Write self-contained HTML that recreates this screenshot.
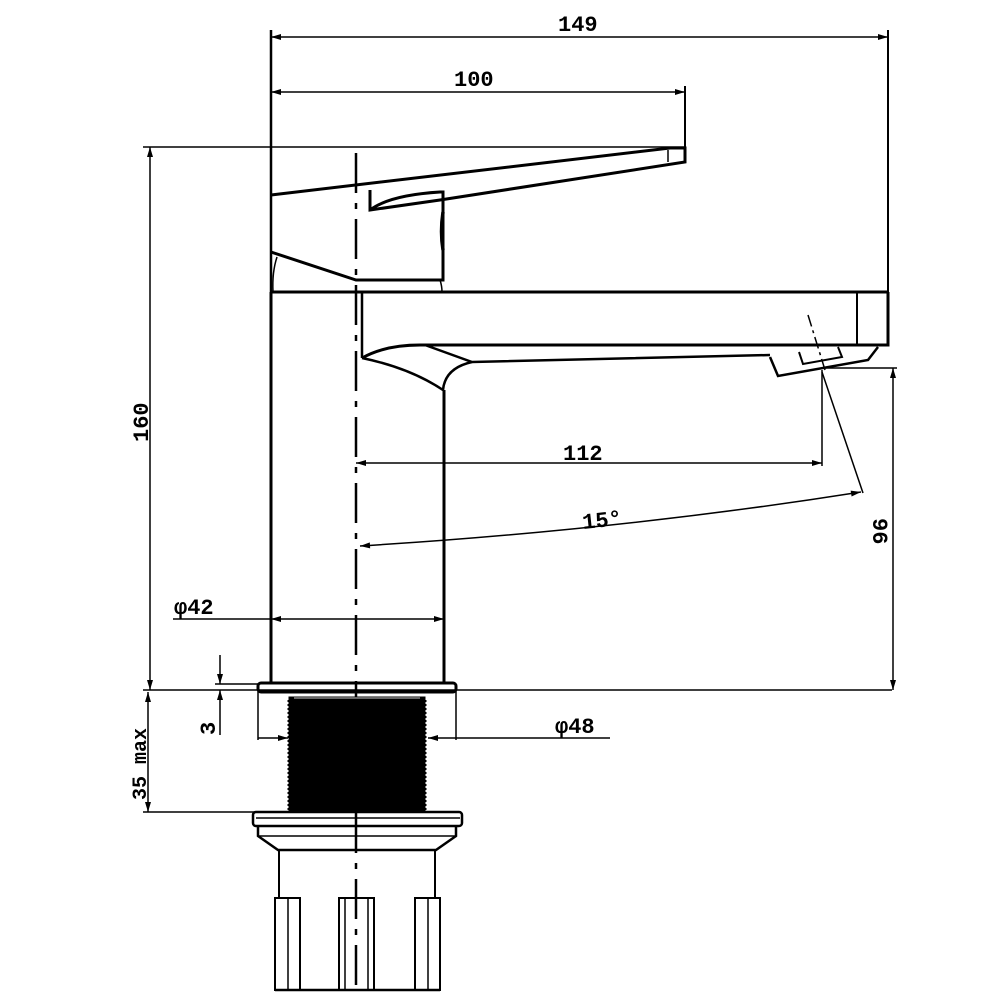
<!DOCTYPE html>
<html><head><meta charset="utf-8"><style>
html,body{margin:0;padding:0;background:#fff;width:1000px;height:1000px;overflow:hidden}
svg text{font-family:"Liberation Mono",monospace;font-weight:bold;font-size:22px;fill:#000}
</style></head><body>
<svg width="1000" height="1000" viewBox="0 0 1000 1000" xmlns="http://www.w3.org/2000/svg">
<defs>
<marker id="a" viewBox="0 0 10 6" refX="10" refY="3" markerWidth="14" markerHeight="6" orient="auto-start-reverse" markerUnits="userSpaceOnUse"><path d="M0,0L10,3L0,6z" fill="#000"/></marker>
</defs>
<g stroke="#000" fill="none" stroke-width="2">
<line x1="271" y1="30" x2="271" y2="292" stroke-width="2.5"/>
<line x1="888" y1="30" x2="888" y2="292"/>
<line x1="685" y1="86" x2="685" y2="160"/>
<line x1="143" y1="147" x2="685" y2="147" stroke-width="1.5"/>
<line x1="143" y1="690" x2="892" y2="690" stroke-width="1.5"/>
<line x1="822" y1="368" x2="897" y2="368" stroke-width="1.5"/>
<line x1="822" y1="370" x2="822" y2="466" stroke-width="1.5"/>
<line x1="822" y1="372" x2="863" y2="493" stroke-width="1.5"/>
<line x1="143" y1="812" x2="290" y2="812" stroke-width="1.5"/>
<line x1="215" y1="684" x2="258" y2="684" stroke-width="1.5"/>
<line x1="271" y1="37" x2="888" y2="37" marker-start="url(#a)" marker-end="url(#a)" stroke-width="1.5"/>
<line x1="271" y1="92" x2="685" y2="92" marker-start="url(#a)" marker-end="url(#a)" stroke-width="1.5"/>
<line x1="150" y1="147" x2="150" y2="690" marker-start="url(#a)" marker-end="url(#a)" stroke-width="1.5"/>
<line x1="356" y1="463" x2="822" y2="463" marker-start="url(#a)" marker-end="url(#a)" stroke-width="1.5"/>
<path d="M360,546 Q620,530 861,492" marker-start="url(#a)" marker-end="url(#a)" stroke-width="1.5"/>
<line x1="893" y1="368" x2="893" y2="690" marker-start="url(#a)" marker-end="url(#a)" stroke-width="1.5"/>
<line x1="173" y1="619" x2="271" y2="619" stroke-width="1.5"/>
<line x1="271" y1="619" x2="444" y2="619" marker-start="url(#a)" marker-end="url(#a)" stroke-width="1.5"/>
<line x1="258" y1="738" x2="288" y2="738" marker-end="url(#a)" stroke-width="1.5"/>
<line x1="456" y1="738" x2="428" y2="738" marker-end="url(#a)" stroke-width="1.5"/>
<line x1="456" y1="738" x2="610" y2="738" stroke-width="1.5"/>
<line x1="258" y1="690" x2="258" y2="740" stroke-width="1.5"/>
<line x1="456" y1="690" x2="456" y2="740" stroke-width="1.5"/>
<line x1="148" y1="692" x2="148" y2="812" marker-start="url(#a)" marker-end="url(#a)" stroke-width="1.5"/>
<line x1="220" y1="655" x2="220" y2="684" marker-end="url(#a)" stroke-width="1.5"/>
<line x1="220" y1="735" x2="220" y2="690" marker-end="url(#a)" stroke-width="1.5"/>
<line x1="356" y1="153" x2="356" y2="995" stroke-dasharray="40,10,6,10" stroke-width="2.5"/>
<line x1="271" y1="292" x2="271" y2="683" stroke-width="3"/>
<line x1="444" y1="390" x2="444" y2="683" stroke-width="3"/>
<line x1="271" y1="292" x2="888" y2="292" stroke-width="3"/>
<line x1="362" y1="292" x2="362" y2="358" stroke-width="2.5"/>
<path d="M362,358 Q385,345 420,345 L888,345 L888,292" stroke-width="3"/>
<line x1="857" y1="292" x2="857" y2="345" stroke-width="2"/>
<path d="M425,345 L472,362 L770,355" stroke-width="2.5"/>
<path d="M362,358 Q410,368 443,390 Q445,368 472,362" stroke-width="2.5"/>
<path d="M770,357 L778,376 L868,360 L878,347" stroke-width="2.5"/>
<path d="M799,352 L803,364 L842,357 L838,347" stroke-width="2"/>
<line x1="808" y1="315" x2="825" y2="370" stroke-dasharray="12,4,3,4" stroke-width="1.5"/>
<path d="M271,195 L670,148 L685,148 L685,162 L440,200 L370,210 L370,190" stroke-width="3"/>
<line x1="668" y1="150" x2="668" y2="162" stroke-width="1.5"/>
<path d="M370,210 Q390,195 440,192 L443,192 L443,280 L356,280 L271,252" stroke-width="3"/>
<path d="M277,257 Q272,272 273,292" stroke-width="1.5"/>
<path d="M440,280 Q442,286 442,292" stroke-width="1.5"/>
<path d="M443,212 Q440,232 443,250" stroke-width="3.5"/>
<rect x="258" y="683" width="198" height="9" rx="3" stroke-width="3"/>
<rect x="289" y="697" width="136" height="115" fill="#000" stroke-width="1"/>
<path d="M289,700 L289,812 M425,700 L425,812" stroke-dasharray="2,2" stroke-width="3"/>
<line x1="294" y1="698" x2="420" y2="698" stroke="#888" stroke-width="1.5"/>
<rect x="253" y="812" width="209" height="14" rx="3" stroke-width="2.5"/>
<line x1="256" y1="818" x2="460" y2="818" stroke-width="1.5"/>
<path d="M258,826 L258,836 L278,850 L436,850 L456,836 L456,826" stroke-width="2.5"/>
<line x1="258" y1="836" x2="456" y2="836" stroke-width="1.5"/>
<line x1="279" y1="850" x2="279" y2="898" stroke-width="2"/>
<line x1="435" y1="850" x2="435" y2="898" stroke-width="2"/>
<rect x="275" y="898" width="25" height="92" stroke-width="2"/>
<line x1="288" y1="898" x2="288" y2="990" stroke-width="1.5"/>
<rect x="339" y="898" width="35" height="92" stroke-width="2"/>
<line x1="345" y1="898" x2="345" y2="990" stroke-width="1.5"/>
<line x1="368" y1="898" x2="368" y2="990" stroke-width="1.5"/>
<rect x="415" y="898" width="25" height="92" stroke-width="2"/>
<line x1="428" y1="898" x2="428" y2="990" stroke-width="1.5"/>
<line x1="275" y1="990" x2="440" y2="990" stroke-width="2.5"/>
</g>
<text x="558" y="31">149</text>
<text x="454" y="86">100</text>
<text x="563" y="460">112</text>
<text x="583" y="529" transform="rotate(-6 583 529)">15°</text>
<text x="174" y="614">φ42</text>
<text x="555" y="733">φ48</text>
<text transform="translate(148 442) rotate(-90)">160</text>
<text transform="translate(873 518) rotate(90)">96</text>
<text transform="translate(215 735) rotate(-90)">3</text>
<text transform="translate(146 800) rotate(-90)" style="font-size:20px">35 max</text>
</svg>
</body></html>
